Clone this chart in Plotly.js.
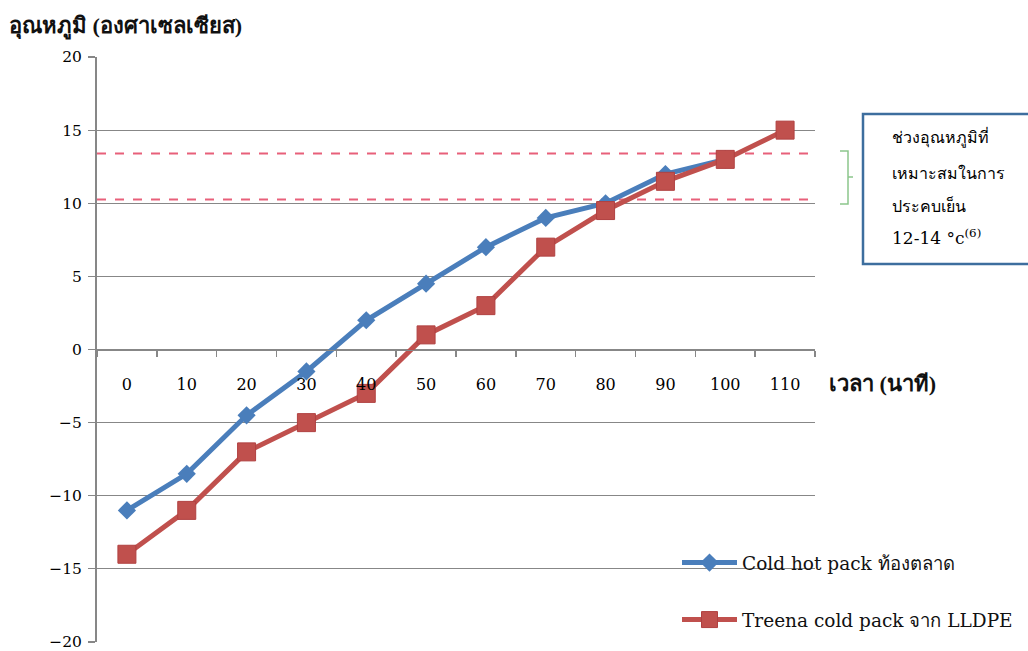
<!DOCTYPE html>
<html>
<head>
<meta charset="utf-8">
<script src="https://cdn.plot.ly/plotly-3.0.1.min.js"></script>
<style>html,body{margin:0;padding:0;background:#fff;}#chart{width:1028px;height:651px;}</style>
</head>
<body>
<div id="chart"></div>
<script>
// ---- data ----
const timeBlue = [0, 10, 20, 30, 40, 50, 60, 70, 80, 90, 100];
const tempBlue = [-11, -8.5, -4.5, -1.5, 2, 4.5, 7, 9, 10, 12, 13];
const timeRed = [0, 10, 20, 30, 40, 50, 60, 70, 80, 90, 100, 110];
const tempRed = [-14, -11, -7, -5, -3, 1, 3, 7, 9.5, 11.5, 13, 15];
const xTickLabels = ['0','10','20','30','40','50','60','70','80','90','100','110'];
const xTickVals = [0, 10, 20, 30, 40, 50, 60, 70, 80, 90, 100, 110];
const xBoundaryTicks = [-5, 5, 15, 25, 35, 45, 55, 65, 75, 85, 95, 105, 115];
const yTickVals = [-20, -15, -10, -5, 0, 5, 10, 15, 20];
const bandUpper = 13.4;
const bandLower = 10.25;
const seriesNames = ['Cold hot pack ท้องตลาด', 'Treena cold pack จาก LLDPE'];
const yTitle = 'อุณหภูมิ (องศาเซลเซียส)';
const xTitle = 'เวลา (นาที)';
const boxLines = ['ช่วงอุณหภูมิที่', 'เหมาะสมในการ', 'ประคบเย็น', '12-14 °c<sup>(6)</sup>'];

// ---- layout helpers (pixel -> paper) ----
const W = 1028, H = 651;
const L = 97, R = 815, T = 57, B = 642;
const px = x => (x - L) / (R - L);
const py = y => (B - y) / (B - T);

const serif = 'DejaVu Serif, serif';
const tserif = 'Liberation Serif, DejaVu Serif, serif';
const grey = '#878787';

const traces = [
  {
    x: timeBlue, y: tempBlue, name: seriesNames[0], type: 'scatter', mode: 'lines+markers',
    line: {color: '#4a7ebb', width: 5},
    marker: {symbol: 'diamond', size: 14, color: '#4a7ebb'},
    legendgroup: 'a', xaxis: 'x', yaxis: 'y'
  },
  {
    x: timeRed, y: tempRed, name: seriesNames[1], type: 'scatter', mode: 'lines+markers',
    line: {color: '#c0504d', width: 5},
    marker: {symbol: 'square', size: 18, color: '#c0504d', line: {color: '#b04040', width: 1}},
    legendgroup: 'b', xaxis: 'x', yaxis: 'y'
  },
  {
    x: xTickVals, y: xTickVals.map(() => null), xaxis: 'x2', yaxis: 'y',
    showlegend: false, hoverinfo: 'skip', mode: 'markers'
  }
];

const annotations = [
  {xref: 'paper', yref: 'paper', x: px(7), y: py(27), xanchor: 'left', yanchor: 'middle',
   text: '<b>' + yTitle + '</b>', showarrow: false, font: {family: tserif, size: 22, color: '#111'}},
  {xref: 'paper', yref: 'paper', x: px(827), y: py(383), xanchor: 'left', yanchor: 'middle',
   text: '<b>' + xTitle + '</b>', showarrow: false, font: {family: tserif, size: 22, color: '#111'}}
];
const boxLineY = [137, 173, 205, 237];
boxLines.forEach((t, i) => {
  annotations.push({xref: 'paper', yref: 'paper', x: px(890), y: py(boxLineY[i]), xanchor: 'left', yanchor: 'middle',
    text: t, showarrow: false,
    font: {family: i === 3 ? serif : tserif, size: i === 3 ? 17 : 16, color: '#000'}});
});

const shapes = [
  {type: 'line', xref: 'x', yref: 'y', x0: -5, x1: 118.3, y0: bandUpper, y1: bandUpper,
   line: {color: '#e8607a', width: 2, dash: 'dash'}, layer: 'below'},
  {type: 'line', xref: 'x', yref: 'y', x0: -5, x1: 118.3, y0: bandLower, y1: bandLower,
   line: {color: '#e8607a', width: 2, dash: 'dash'}, layer: 'below'},
  {type: 'path', xref: 'paper', yref: 'paper',
   path: `M ${px(840)} ${py(151)} L ${px(848)} ${py(151)} L ${px(848)} ${py(204)} L ${px(840)} ${py(204)} M ${px(848)} ${py(177)} L ${px(853)} ${py(177)}`,
   line: {color: '#8cc68c', width: 1.5}},
  {type: 'rect', xref: 'paper', yref: 'paper', x0: px(863), x1: px(1040), y0: py(264), y1: py(114),
   line: {color: '#3d6e9e', width: 2.5}, fillcolor: 'rgba(0,0,0,0)'}
];

const layout = {
  width: W, height: H,
  margin: {l: L, r: W - R, t: T, b: H - B},
  paper_bgcolor: '#ffffff', plot_bgcolor: '#ffffff',
  showlegend: true,
  legend: {x: px(677), y: py(544), xanchor: 'left', yanchor: 'top', bgcolor: 'rgba(0,0,0,0)',
    font: {family: serif, size: 18.5, color: '#111'}, itemwidth: 55, tracegroupgap: 30},
  xaxis: {
    range: [-5, 115], anchor: 'free', position: 0.5, showgrid: false, zeroline: false,
    showline: true, linecolor: grey, linewidth: 1.5,
    tickmode: 'array', tickvals: xBoundaryTicks, showticklabels: false,
    ticks: 'outside', ticklen: 6, tickcolor: grey, tickwidth: 1.5, fixedrange: true
  },
  xaxis2: {
    range: [-5, 115], overlaying: 'x', anchor: 'free', position: 0.5, side: 'bottom',
    showgrid: false, zeroline: false, showline: false,
    tickmode: 'array', tickvals: xTickVals, ticktext: xTickLabels, ticks: '',
    ticklabelstandoff: 23, tickfont: {family: serif, size: 16, color: '#000'}
  },
  yaxis: {
    range: [-20, 20], tickmode: 'array', tickvals: yTickVals, showgrid: true, gridcolor: grey, gridwidth: 1.2,
    zeroline: false, showline: true, linecolor: grey, linewidth: 2,
    ticks: 'outside', ticklen: 7, tickcolor: grey, tickwidth: 1.2, ticklabeloverflow: 'allow',
    tickfont: {family: serif, size: 15.5, color: '#000'}, ticklabelstandoff: 3
  },
  shapes: shapes,
  annotations: annotations
};

Plotly.newPlot('chart', traces, layout, {displayModeBar: false, staticPlot: true});
</script>
</body>
</html>
